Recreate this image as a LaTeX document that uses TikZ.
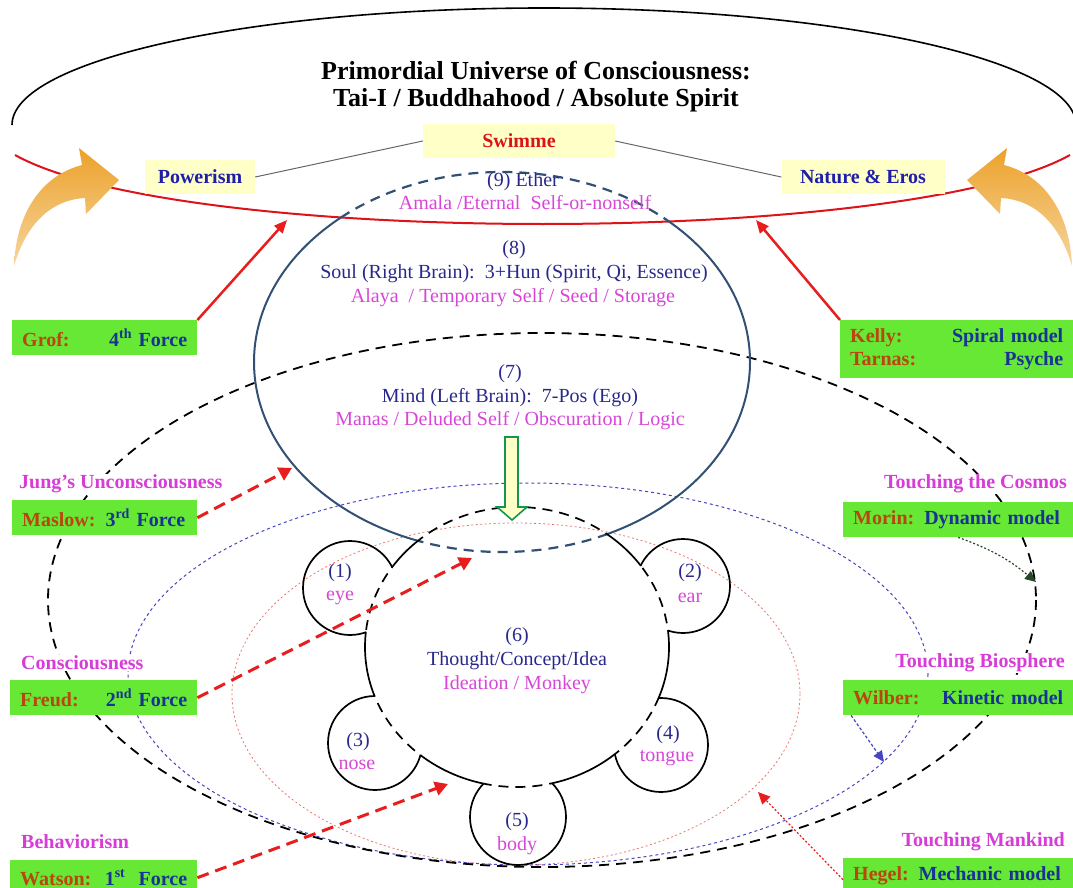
\documentclass[tikz,border=0pt]{standalone}
\usepackage{fontspec}
\setmainfont{Liberation Serif}
\usetikzlibrary{arrows.meta}

\definecolor{boxgreen}{RGB}{102,232,52}
\definecolor{namebrown}{RGB}{185,70,15}
\definecolor{forceblue}{RGB}{25,50,150}
\definecolor{labelpink}{RGB}{215,60,215}
\definecolor{textnavy}{RGB}{40,40,140}
\definecolor{textpink}{RGB}{215,70,215}
\definecolor{arrowred}{RGB}{232,30,30}
\definecolor{curvered}{RGB}{220,20,25}
\definecolor{softyellow}{RGB}{255,255,200}
\definecolor{soulblue}{RGB}{50,80,115}
\definecolor{dotblue}{RGB}{70,70,190}
\definecolor{dotred}{RGB}{232,120,110}
\definecolor{arrowgreen}{RGB}{20,150,80}
\definecolor{moringreen}{RGB}{40,70,40}
\definecolor{sunorange}{RGB}{236,162,42}
\definecolor{heavenblue}{RGB}{30,30,170}

\newcommand{\who}[1]{\textcolor{namebrown}{#1}}
\newcommand{\what}[1]{\textcolor{forceblue}{#1}}
\newcommand{\sensecircles}{(350,588) circle[radius=47] (683,586) circle[radius=47] (375,743) circle[radius=47] (661,745) circle[radius=47] (518,817) circle[radius=48]}

\tikzset{
  navytext/.style={text=textnavy, font=\fontsize{20}{24}\selectfont, inner sep=1pt},
  pinktext/.style={text=textpink, font=\fontsize{20}{24}\selectfont, inner sep=1pt},
  forcebox/.style={fill=boxgreen, minimum height=35pt, inner xsep=10pt, inner ysep=2pt,
    font=\bfseries\fontsize{20}{23}\selectfont, anchor=north west},
  tag/.style={fill=white, text=labelpink, font=\bfseries\fontsize{20}{23}\selectfont, inner sep=1pt},
  heaven/.style={fill=softyellow, font=\bfseries\fontsize{20}{23}\selectfont, minimum height=34pt},
  forceline/.style={arrowred, line width=3pt, dash pattern=on 12pt off 7pt, -{Triangle[width=14pt,length=13pt]}},
  pushline/.style={arrowred, line width=2.5pt, -{Triangle[width=11pt,length=13pt]}},
}

\begin{document}
\begin{tikzpicture}[x=1pt, y=-1pt]
\useasboundingbox (0,0) rectangle (1073,888);

% universe and the eros curve
\draw[line width=1.6pt] (12,125) arc[start angle=180, end angle=360, x radius=532, y radius=117];
\node[font=\bfseries\fontsize{26}{27}\selectfont, align=center] (title) at (536,87)
  {Primordial Universe of Consciousness:\\Tai-I / Buddhahood / Absolute Spirit};
\draw[curvered, line width=2pt] (15,155) .. controls (180,247) and (905,247) .. (1070,155);

% orange arrows
\shade[top color=sunorange, bottom color=sunorange!45]
  (14,266) .. controls (16,215) and (40,176) .. (82,165) -- (79,148) -- (119,180) -- (86,214)
  -- (85,198) .. controls (50,200) and (26,225) .. (14,266) -- cycle;
\begin{scope}[xshift=1086pt, xscale=-1]
\shade[top color=sunorange, bottom color=sunorange!45]
  (14,266) .. controls (16,215) and (40,176) .. (82,165) -- (79,148) -- (119,180) -- (86,214)
  -- (85,198) .. controls (50,200) and (26,225) .. (14,266) -- cycle;
\end{scope}

% dotted and dashed orbits
\draw[dotred, line width=0.8pt, dash pattern=on 2pt off 2.5pt] (516,694) ellipse[x radius=284, y radius=171];
\draw[dotblue, line width=1pt, dash pattern=on 3pt off 3pt] (528,674) ellipse[x radius=400, y radius=191];
\draw[line width=1.8pt, dash pattern=on 10pt off 7pt] (542,600) ellipse[x radius=494, y radius=267];

% soul and mind ellipse
\begin{scope}[even odd rule]
\clip (15,155) .. controls (180,247) and (905,247) .. (1070,155) -- (1073,888) -- (0,888) -- cycle;
\clip (0,0) rectangle (1073,888) (517,647) ellipse[x radius=152, y radius=140];
\draw[soulblue, line width=2pt] (502,362) ellipse[x radius=248, y radius=190];
\end{scope}
\begin{scope}
\clip (15,155) .. controls (180,247) and (905,247) .. (1070,155) -- (1073,0) -- (0,0) -- cycle;
\draw[soulblue, line width=2.2pt, dash pattern=on 10pt off 7pt] (502,362) ellipse[x radius=248, y radius=190];
\end{scope}
\begin{scope}
\clip (517,647) ellipse[x radius=152, y radius=140];
\draw[soulblue, line width=2.2pt, dash pattern=on 10pt off 7pt] (502,362) ellipse[x radius=248, y radius=190];
\end{scope}

% thought circle and five senses
\begin{scope}[even odd rule]
\clip (0,0) rectangle (1073,888) \sensecircles (502,362) ellipse[x radius=248, y radius=190];
\draw[line width=1.7pt] (517,647) ellipse[x radius=152, y radius=140];
\end{scope}
\begin{scope}
\clip \sensecircles (502,362) ellipse[x radius=248, y radius=190];
\draw[line width=1.7pt, dash pattern=on 10pt off 7pt] (517,647) ellipse[x radius=152, y radius=140];
\end{scope}
\begin{scope}[even odd rule]
\clip (0,0) rectangle (1073,888) (517,647) ellipse[x radius=152, y radius=140];
\draw[line width=1.7pt] \sensecircles;
\end{scope}

% heaven boxes
\node[heaven, text=curvered, minimum width=192pt] (swimme) at (519,141) {Swimme};
\node[heaven, text=heavenblue, minimum width=110pt] (power) at (200,177) {Powerism};
\node[heaven, text=heavenblue, minimum width=163pt] (nature) at (863,177) {Nature \& Eros};
\draw[gray!80!black, line width=1pt] (power.east) -- (swimme.west);
\draw[gray!80!black, line width=1pt] (swimme.east) -- (nature.west);

% consciousness levels
\node[navytext] (ether) at (523,182) {(9) Ether};
\node[pinktext] (amala) at (525,203) {Amala /Eternal\ \ Self-or-nonself};
\node[navytext, align=center] (soul) at (514,262) {(8)\\Soul (Right Brain):\ \ 3+Hun (Spirit, Qi, Essence)};
\node[pinktext] (alaya) at (513,298) {Alaya\ \ / Temporary Self / Seed / Storage};
\node[navytext, align=center] (mind) at (510,386) {(7)\\Mind (Left Brain):\ \ 7-Pos (Ego)};
\node[pinktext] (manas) at (510,421) {Manas / Deluded Self / Obscuration / Logic};
\draw[arrowgreen, line width=1.6pt, fill=softyellow] (505,437) -- (518,437) -- (518,507) -- (527,507)
  -- (512,520) -- (497,507) -- (505,507) -- cycle;
\node[navytext, align=center] (thought) at (517,649) {(6)\\Thought/Concept/Idea};
\node[pinktext] (ideation) at (517,685) {Ideation / Monkey};
\node[navytext] (eyeno) at (340,573) {(1)};
\node[pinktext] (eye) at (340,598) {eye};
\node[navytext] (earno) at (690,573) {(2)};
\node[pinktext] (ear) at (690,598) {ear};
\node[navytext] (noseno) at (358,742) {(3)};
\node[pinktext] (nose) at (357,765) {nose};
\node[navytext] (tongueno) at (668,735) {(4)};
\node[pinktext] (tongue) at (667,758) {tongue};
\node[navytext] (bodyno) at (517,822) {(5)};
\node[pinktext] (body) at (517,846) {body};

% schools, left
\node[forcebox, text width=165pt] (grof) at (12,320) {\who{Grof:}\hfill\what{4\textsuperscript{th} Force}};
\node[tag, anchor=west] (jung) at (18,484) {Jung’s Unconsciousness};
\node[forcebox, text width=165pt] (maslow) at (12,500) {\who{Maslow:} \what{3\textsuperscript{rd} Force}};
\node[tag, anchor=west] (consc) at (20,663) {Consciousness};
\node[forcebox, text width=167pt] (freud) at (10,680) {\who{Freud:}\hfill\what{2\textsuperscript{nd} Force}};
\node[tag, anchor=west] (behav) at (20,842) {Behaviorism};
\node[forcebox, text width=167pt] (watson) at (10,860) {\who{Watson:}\hfill\what{1\textsuperscript{st}\ \ Force}};

% schools, right
\node[forcebox, text width=213pt, minimum height=58pt] (kelly) at (840,320)
  {\who{Kelly:}\hfill\what{Spiral model}\\\who{Tarnas:}\hfill\what{Psyche}};
\node[tag, anchor=east] (cosmos) at (1068,484) {Touching the Cosmos};
\node[forcebox, text width=210pt] (morin) at (843,502) {\who{Morin:} \what{Dynamic model}};
\node[tag, anchor=east] (biosph) at (1066,663) {Touching Biosphere};
\node[forcebox, text width=210pt] (wilber) at (843,680) {\who{Wilber:}\hfill\what{Kinetic model}};
\node[tag, anchor=east] (mankind) at (1066,842) {Touching Mankind};
\node[forcebox, text width=210pt] (hegel) at (843,858) {\who{Hegel:} \what{Mechanic model}};

% influences
\coordinate (groftip) at (287,220);
\coordinate (kellytip) at (756,220);
\coordinate (maslowtip) at (292,468);
\coordinate (freudtip) at (472,558);
\coordinate (watsontip) at (448,784);
\coordinate (morintip) at (1036,582);
\coordinate (wilbertip) at (884,762);
\coordinate (hegeltip) at (758,792);
\draw[pushline] (grof.north east) -- (groftip);
\draw[pushline] (kelly.north west) -- (kellytip);
\draw[forceline] (maslow.east) -- (maslowtip);
\draw[forceline] (freud.east) -- (freudtip);
\draw[forceline] (watson.east) -- (watsontip);
\draw[moringreen, line width=1.2pt, dash pattern=on 2pt off 2pt, -{Triangle[width=10pt,length=11pt]}]
  (morin.south) to[bend left=10] (morintip);
\draw[dotblue, line width=1.2pt, dash pattern=on 3pt off 2pt, -{Triangle[width=10pt,length=11pt]}]
  ([xshift=8pt]wilber.south west) -- (wilbertip);
\draw[dotred, line width=1.2pt, dash pattern=on 2pt off 2pt, -{Triangle[width=11pt,length=12pt]}, arrowred]
  ([yshift=-4pt]hegel.west) -- (hegeltip);
\end{tikzpicture}
\end{document}
